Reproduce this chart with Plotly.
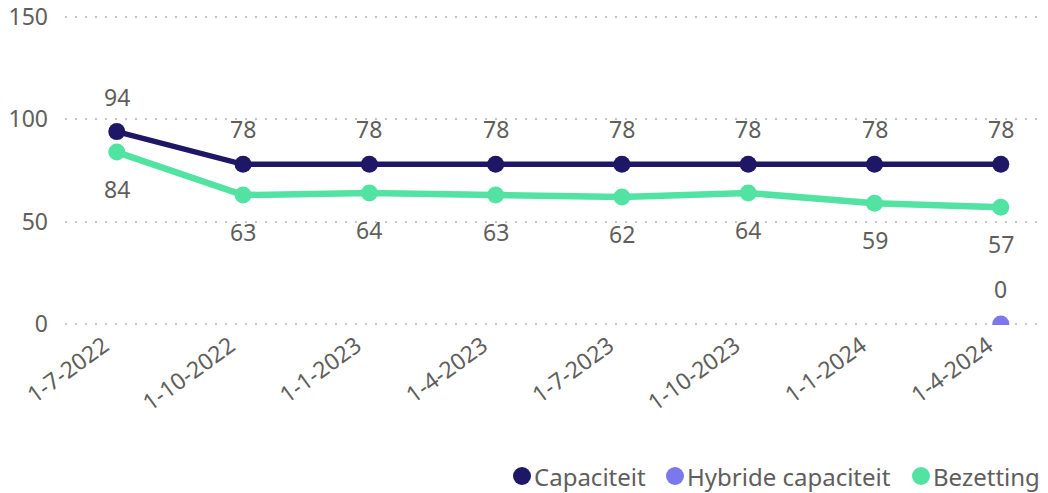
import plotly.graph_objects as go

# Quarterly reference dates (category labels on the x axis)
dates = ["1-7-2022", "1-10-2022", "1-1-2023", "1-4-2023",
         "1-7-2023", "1-10-2023", "1-1-2024", "1-4-2024"]
capaciteit = [94, 78, 78, 78, 78, 78, 78, 78]
hybride_capaciteit = [None, None, None, None, None, None, None, 0]
bezetting = [84, 63, 64, 63, 62, 64, 59, 57]

y_ticks = [0, 50, 100, 150]

C_CAP = "#1E1765"
C_HYB = "#7A78EC"
C_BEZ = "#52E3A2"
TEXT = "#605E5C"
FONT = "Noto Sans"

W, H = 1048, 493
ML, MR, MT, MB = 65, 3, 16, 168

fig = go.Figure()

# name, values, colour, label offset (px), line width
series = [
    ("Capaciteit", capaciteit, C_CAP, 35, 5.5),
    ("Hybride capaciteit", hybride_capaciteit, C_HYB, 35, 5.5),
    ("Bezetting", bezetting, C_BEZ, -37, 6.5),
]

for name, vals, color, shift, lw in series:
    fig.add_trace(go.Scatter(
        x=dates, y=vals, name=name, mode="lines+markers",
        line=dict(color=color, width=lw),
        marker=dict(color=color, size=17),
        showlegend=False, cliponaxis=True,
    ))
    # value labels placed above or below each point
    for d, v in zip(dates, vals):
        if v is None:
            continue
        fig.add_annotation(
            x=d, y=v, text=str(v), showarrow=False, yshift=shift,
            font=dict(family=FONT, size=23, color=TEXT),
        )


# compact legend row at the bottom right: dot followed directly by the name
def px_to_paper_x(px):
    return (px - ML) / (W - ML - MR)


def px_to_paper_y(py):
    return (H - MB - py) / (H - MT - MB)


legend_y = px_to_paper_y(476)
legend_dot_px = [522, 675, 921]
for (name, _, color, _, _), dot_px in zip(series, legend_dot_px):
    fig.add_shape(
        type="circle", xref="paper", yref="paper",
        xsizemode="pixel", ysizemode="pixel",
        xanchor=px_to_paper_x(dot_px), yanchor=legend_y,
        x0=-9, x1=9, y0=-9, y1=9,
        fillcolor=color, line=dict(width=0),
    )
    fig.add_annotation(
        xref="paper", yref="paper", x=px_to_paper_x(dot_px + 10),
        xanchor="left", y=legend_y, yanchor="middle", showarrow=False,
        text=name, font=dict(family=FONT, size=24, color=TEXT),
    )

fig.update_layout(
    width=W, height=H,
    margin=dict(l=ML, r=MR, t=MT, b=MB),
    plot_bgcolor="white", paper_bgcolor="white",
    font=dict(family=FONT, size=23, color=TEXT),
    showlegend=False,
)

fig.update_xaxes(
    type="category", range=[-0.41, 7.35], automargin=False,
    showgrid=False, showline=False, zeroline=False,
    tickangle=-36, ticks="", ticklabelstandoff=2, ticklabelshift=-13,
    tickfont=dict(family=FONT, size=23, color=TEXT),
)
fig.update_yaxes(
    range=[-0.5, 150.5], tickvals=y_ticks, automargin=False,
    showgrid=True, gridcolor="#C8C6C4", gridwidth=1.5, griddash="2px,8px",
    zeroline=False, showline=False, ticks="", ticklabelstandoff=16,
    tickfont=dict(family=FONT, size=23, color=TEXT),
)

fig.write_html("out.html")
